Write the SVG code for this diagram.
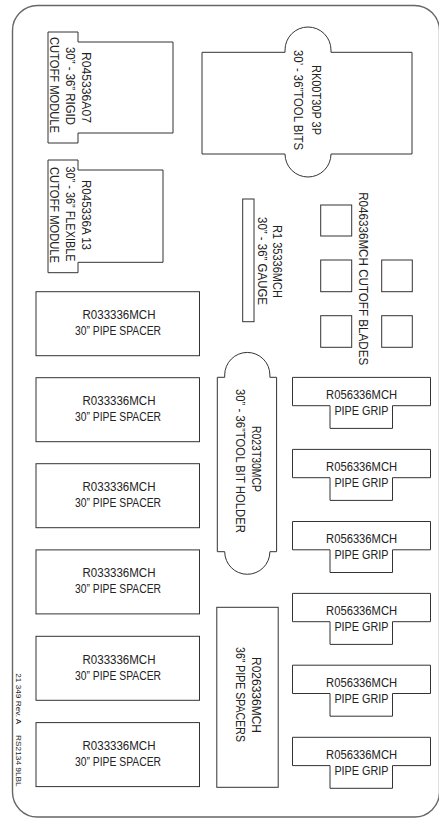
<svg xmlns="http://www.w3.org/2000/svg" xmlns:xlink="http://www.w3.org/1999/xlink" width="439" height="818" viewBox="0 0 439 818">
<style>
.shape{fill:#fff;stroke:#333;stroke-width:1}
.border{fill:#fff;stroke:#666;stroke-width:1.4}
text{font-family:"Liberation Sans",Arial,sans-serif;font-size:12px;fill:#222}
.mid{text-anchor:middle}
.sp{font-size:12.5px}
.ft{font-size:8px}
</style>
<defs>
<path id="grip" d="M292.5,0 H430.5 V28.3 H392.5 V51 H330 V28.3 H292.5 Z"/>
<rect id="spacer" x="36" y="0" width="163.5" height="64"/>
</defs>
<rect class="border" x="12.5" y="5.5" width="427" height="811.5" rx="25" ry="25"/>
<g id="connectors"/>

<g id="n-rigid">
<path class="shape" d="M48,32 H78 V42 H173 V133 H78 V143 H48 Z"/>
<text class="mid" transform="translate(81.7,87.5) rotate(90)" textLength="71" lengthAdjust="spacingAndGlyphs">R045336A07</text>
<text class="mid" transform="translate(65.7,86) rotate(90)" textLength="78" lengthAdjust="spacingAndGlyphs">30” - 36” RIGID</text>
<text class="mid" transform="translate(50,85) rotate(90)" textLength="96" lengthAdjust="spacingAndGlyphs">CUTOFF MODULE</text>
</g>

<g id="n-toolbits">
<path class="shape" d="M202,52.3 H285 V50 A23 23 0 0 1 331,50 V52.3 H412 V154 H331 A23 23 0 0 1 285,154 H202 Z"/>
<text class="mid" transform="translate(311.5,100) rotate(90)" textLength="70" lengthAdjust="spacingAndGlyphs">RK00T30P 3P</text>
<text class="mid" transform="translate(294,100) rotate(90)" textLength="100" lengthAdjust="spacingAndGlyphs">30’ - 36”TOOL BITS</text>
</g>

<g id="n-flexible">
<path class="shape" d="M48,160 H78 V170 H163 V262.3 H78 V272.7 H48 Z"/>
<text class="mid" transform="translate(81.7,215) rotate(90)" textLength="70" lengthAdjust="spacingAndGlyphs">R045336A 13</text>
<text class="mid" transform="translate(65.7,214) rotate(90)" textLength="95" lengthAdjust="spacingAndGlyphs">30” - 36” FLEXIBLE</text>
<text class="mid" transform="translate(50,215) rotate(90)" textLength="96" lengthAdjust="spacingAndGlyphs">CUTOFF MODULE</text>
</g>

<g id="n-gauge">
<rect class="shape" x="242.7" y="199" width="11.3" height="122.7"/>
<text class="mid" transform="translate(273.3,261.5) rotate(90)" textLength="73" lengthAdjust="spacingAndGlyphs">R1 35336MCH</text>
<text class="mid" transform="translate(258.3,261) rotate(90)" textLength="88" lengthAdjust="spacingAndGlyphs">30” - 36” GAUGE</text>
</g>

<g id="n-blades">
<rect class="shape" x="320.7" y="205" width="31" height="31"/>
<rect class="shape" x="320.7" y="260" width="31" height="31.7"/>
<rect class="shape" x="381.7" y="260" width="30.6" height="31.7"/>
<rect class="shape" x="320.7" y="315.7" width="31" height="31.6"/>
<rect class="shape" x="381.7" y="315.7" width="30.6" height="31.6"/>
<text class="mid" transform="translate(359,278.7) rotate(90)" textLength="173" lengthAdjust="spacingAndGlyphs">R046336MCH CUTOFF BLADES</text>
</g>

<g id="n-holder">
<path class="shape" d="M217.3,377.3 H224.7 V375 A22.6 22.6 0 0 1 269.9,375 V377.3 H276.6 V551.7 H269.9 A22.6 22.6 0 0 1 224.7,551.7 H217.3 Z"/>
<text class="mid" transform="translate(252.2,459) rotate(90)" textLength="66" lengthAdjust="spacingAndGlyphs">R023T30MCP</text>
<text class="mid" transform="translate(235.6,461) rotate(90)" textLength="144" lengthAdjust="spacingAndGlyphs">30” - 36”TOOL BIT HOLDER</text>
</g>

<g id="n-36spacers">
<rect class="shape" x="216.8" y="607.3" width="61.4" height="180"/>
<text class="mid" transform="translate(251.6,695) rotate(90)" textLength="76" lengthAdjust="spacingAndGlyphs">R026336MCH</text>
<text class="mid" transform="translate(235.6,694.5) rotate(90)" textLength="95" lengthAdjust="spacingAndGlyphs">36” PIPE SPACERS</text>
</g>

<g id="n-spacer1" transform="translate(0,291.7)">
<use xlink:href="#spacer" href="#spacer" class="shape"/>
<text class="mid sp" x="119" y="27.5" textLength="73" lengthAdjust="spacingAndGlyphs">R033336MCH</text>
<text class="mid sp" x="118" y="43.5" textLength="86" lengthAdjust="spacingAndGlyphs">30” PIPE SPACER</text>
</g>
<g id="n-spacer2" transform="translate(0,377.7)">
<use xlink:href="#spacer" href="#spacer" class="shape"/>
<text class="mid sp" x="119" y="27.5" textLength="73" lengthAdjust="spacingAndGlyphs">R033336MCH</text>
<text class="mid sp" x="118" y="43.5" textLength="86" lengthAdjust="spacingAndGlyphs">30” PIPE SPACER</text>
</g>
<g id="n-spacer3" transform="translate(0,463.7)">
<use xlink:href="#spacer" href="#spacer" class="shape"/>
<text class="mid sp" x="119" y="27.5" textLength="73" lengthAdjust="spacingAndGlyphs">R033336MCH</text>
<text class="mid sp" x="118" y="43.5" textLength="86" lengthAdjust="spacingAndGlyphs">30” PIPE SPACER</text>
</g>
<g id="n-spacer4" transform="translate(0,549.9)">
<use xlink:href="#spacer" href="#spacer" class="shape"/>
<text class="mid sp" x="119" y="27.5" textLength="73" lengthAdjust="spacingAndGlyphs">R033336MCH</text>
<text class="mid sp" x="118" y="43.5" textLength="86" lengthAdjust="spacingAndGlyphs">30” PIPE SPACER</text>
</g>
<g id="n-spacer5" transform="translate(0,636.3)">
<use xlink:href="#spacer" href="#spacer" class="shape"/>
<text class="mid sp" x="119" y="27.5" textLength="73" lengthAdjust="spacingAndGlyphs">R033336MCH</text>
<text class="mid sp" x="118" y="43.5" textLength="86" lengthAdjust="spacingAndGlyphs">30” PIPE SPACER</text>
</g>
<g id="n-spacer6" transform="translate(0,722.6)">
<use xlink:href="#spacer" href="#spacer" class="shape"/>
<text class="mid sp" x="119" y="27.5" textLength="73" lengthAdjust="spacingAndGlyphs">R033336MCH</text>
<text class="mid sp" x="118" y="43.5" textLength="86" lengthAdjust="spacingAndGlyphs">30” PIPE SPACER</text>
</g>

<g id="n-grip1" transform="translate(0,377.4)">
<use xlink:href="#grip" href="#grip" class="shape"/>
<text class="mid" x="361.6" y="21.7" textLength="71" lengthAdjust="spacingAndGlyphs">R056336MCH</text>
<text class="mid" x="361.4" y="37.4" textLength="54" lengthAdjust="spacingAndGlyphs">PIPE GRIP</text>
</g>
<g id="n-grip2" transform="translate(0,449.4)">
<use xlink:href="#grip" href="#grip" class="shape"/>
<text class="mid" x="361.6" y="21.7" textLength="71" lengthAdjust="spacingAndGlyphs">R056336MCH</text>
<text class="mid" x="361.4" y="37.4" textLength="54" lengthAdjust="spacingAndGlyphs">PIPE GRIP</text>
</g>
<g id="n-grip3" transform="translate(0,521.5)">
<use xlink:href="#grip" href="#grip" class="shape"/>
<text class="mid" x="361.6" y="21.7" textLength="71" lengthAdjust="spacingAndGlyphs">R056336MCH</text>
<text class="mid" x="361.4" y="37.4" textLength="54" lengthAdjust="spacingAndGlyphs">PIPE GRIP</text>
</g>
<g id="n-grip4" transform="translate(0,593.4)">
<use xlink:href="#grip" href="#grip" class="shape"/>
<text class="mid" x="361.6" y="21.7" textLength="71" lengthAdjust="spacingAndGlyphs">R056336MCH</text>
<text class="mid" x="361.4" y="37.4" textLength="54" lengthAdjust="spacingAndGlyphs">PIPE GRIP</text>
</g>
<g id="n-grip5" transform="translate(0,665.2)">
<use xlink:href="#grip" href="#grip" class="shape"/>
<text class="mid" x="361.6" y="21.7" textLength="71" lengthAdjust="spacingAndGlyphs">R056336MCH</text>
<text class="mid" x="361.4" y="37.4" textLength="54" lengthAdjust="spacingAndGlyphs">PIPE GRIP</text>
</g>
<g id="n-grip6" transform="translate(0,737.3)">
<use xlink:href="#grip" href="#grip" class="shape"/>
<text class="mid" x="361.6" y="21.7" textLength="71" lengthAdjust="spacingAndGlyphs">R056336MCH</text>
<text class="mid" x="361.4" y="37.4" textLength="54" lengthAdjust="spacingAndGlyphs">PIPE GRIP</text>
</g>

<g id="footer">
<text class="ft" transform="translate(16,673.3) rotate(90)" textLength="51" lengthAdjust="spacingAndGlyphs">21 349 Rev. A</text>
<text class="ft" transform="translate(16,735) rotate(90)" textLength="51.7" lengthAdjust="spacingAndGlyphs">RS2134 9LBL</text>
</g>
</svg>
